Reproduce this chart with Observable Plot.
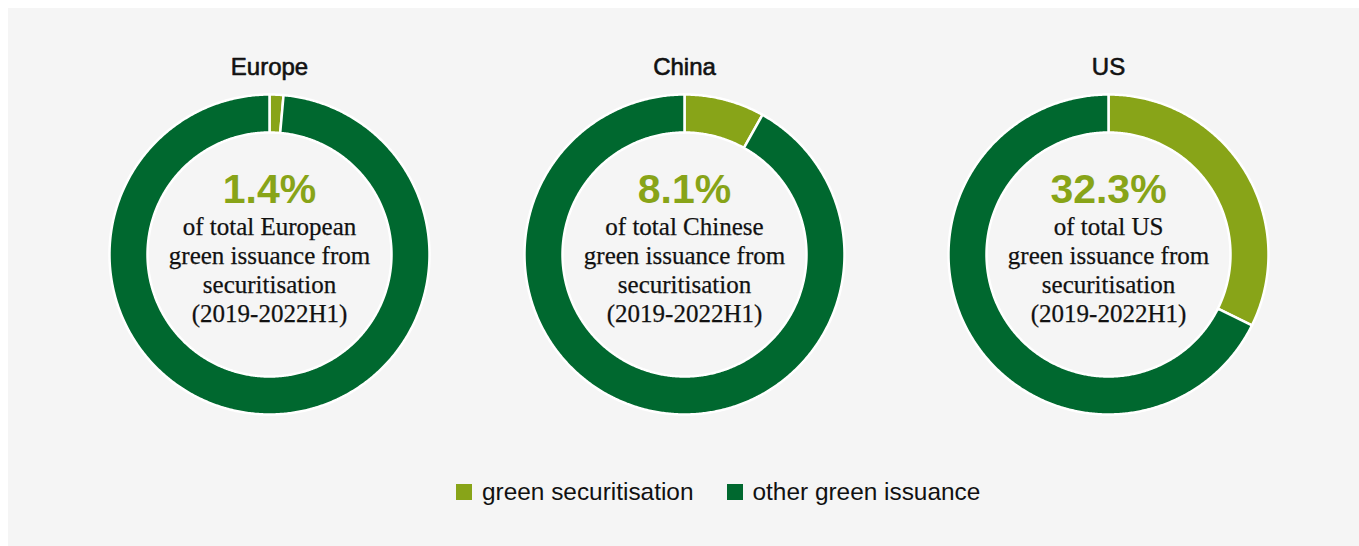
<!DOCTYPE html>
<html>
<head>
<meta charset="utf-8">
<script src="https://cdn.jsdelivr.net/npm/d3@7"></script>
<script src="https://cdn.jsdelivr.net/npm/@observablehq/plot@0.6"></script>
<style>
  html, body { margin: 0; padding: 0; background: #ffffff; width: 1359px; height: 546px; overflow: hidden; }
  #panel { position: absolute; left: 8px; top: 8px; right: 0; bottom: 0; background: #f5f5f5; }
  .donut { position: absolute; }
  #legend { position: absolute; left: 456px; top: 480px; display: flex; align-items: center;
    font-family: "Liberation Sans", Arial, sans-serif; font-size: 24.4px; line-height: 24px; color: #111; }
  .item { display: flex; align-items: center; margin-right: 33px; }
  .sw { width: 16px; height: 16px; margin-right: 10px; }
</style>
</head>
<body>
<div id="panel"></div>
<div id="charts"></div>
<div id="legend"></div>
<script>
// ---- data ----
const regions = ["Europe", "China", "US"];
const greenSecuritisation = [1.4, 8.1, 32.3];
const otherGreenIssuance = [98.6, 91.9, 67.7];
const centerLabels = ["1.4%", "8.1%", "32.3%"];
const descriptions = [
  "of total European\ngreen issuance from\nsecuritisation\n(2019-2022H1)",
  "of total Chinese\ngreen issuance from\nsecuritisation\n(2019-2022H1)",
  "of total US\ngreen issuance from\nsecuritisation\n(2019-2022H1)"
];
const seriesKeys = ["green securitisation", "other green issuance"];
const seriesColors = ["#88a418", "#00682f"];

// ---- layout ----
const donutCentersX = [269, 684, 1108];
const centerY = 254;
const size = 340;       // plot frame
const marginTop = 50;
const innerRatio = 122 / 160;
const extent = size / 320; // outer radius 1 -> 160px

function ringPolygons(values) {
  const arcs = d3.pie().sort(null).value(d => d.value)(values);
  const pts = [];
  arcs.forEach((a, k) => {
    const n = Math.max(2, Math.ceil((a.endAngle - a.startAngle) / (Math.PI / 360)));
    const outer = [], inner = [];
    for (let j = 0; j <= n; j++) {
      const t = a.startAngle + (a.endAngle - a.startAngle) * j / n;
      outer.push({t, r: 1});
      inner.push({t, r: innerRatio});
    }
    inner.reverse();
    [...outer, ...inner].forEach(p => pts.push({
      slice: k, key: a.data.key,
      x: p.r * Math.sin(p.t), y: p.r * Math.cos(p.t)
    }));
  });
  return pts;
}

const charts = document.getElementById("charts");
regions.forEach((region, i) => {
  const values = [
    {key: seriesKeys[0], value: greenSecuritisation[i]},
    {key: seriesKeys[1], value: otherGreenIssuance[i]}
  ];
  const plot = Plot.plot({
    width: size,
    height: size + marginTop,
    marginTop, marginBottom: 0, marginLeft: 0, marginRight: 0,
    x: {domain: [-extent, extent], axis: null},
    y: {domain: [-extent, extent], axis: null},
    color: {domain: seriesKeys, range: seriesColors},
    style: {background: "transparent", overflow: "visible"},
    marks: [
      Plot.line(ringPolygons(values), {
        x: "x", y: "y", z: "slice", fill: "key",
        stroke: "white", strokeWidth: 2.5, curve: "linear-closed"
      }),
      Plot.text([region], {
        text: d => d, frameAnchor: "top", lineAnchor: "bottom", dy: -10,
        fontFamily: "Liberation Sans, Arial, sans-serif", fontSize: 24,
        fill: "#111", stroke: "#111", strokeWidth: 0.6
      }),
      Plot.text([centerLabels[i]], {
        text: d => d, frameAnchor: "middle", lineAnchor: "bottom", dy: -52,
        fontFamily: "Liberation Sans, Arial, sans-serif", fontSize: 41, fontWeight: "bold",
        fill: seriesColors[0]
      }),
      Plot.text([descriptions[i]], {
        text: d => d, frameAnchor: "middle", lineAnchor: "bottom", dy: 67,
        lineHeight: 29 / 25,
        fontFamily: "Liberation Serif, Times New Roman, serif", fontSize: 25,
        fill: "#111", stroke: "#111", strokeWidth: 0.25
      })
    ]
  });
  plot.classList.add("donut");
  plot.style.left = (donutCentersX[i] - size / 2) + "px";
  plot.style.top = (centerY - size / 2 - marginTop) + "px";
  charts.appendChild(plot);
});

// ---- legend ----
const legend = document.getElementById("legend");
seriesKeys.forEach((k, j) => {
  const item = document.createElement("div");
  item.className = "item";
  const sw = document.createElement("div");
  sw.className = "sw";
  sw.style.background = seriesColors[j];
  const label = document.createElement("span");
  label.textContent = k;
  item.appendChild(sw);
  item.appendChild(label);
  legend.appendChild(item);
});
</script>
</body>
</html>
